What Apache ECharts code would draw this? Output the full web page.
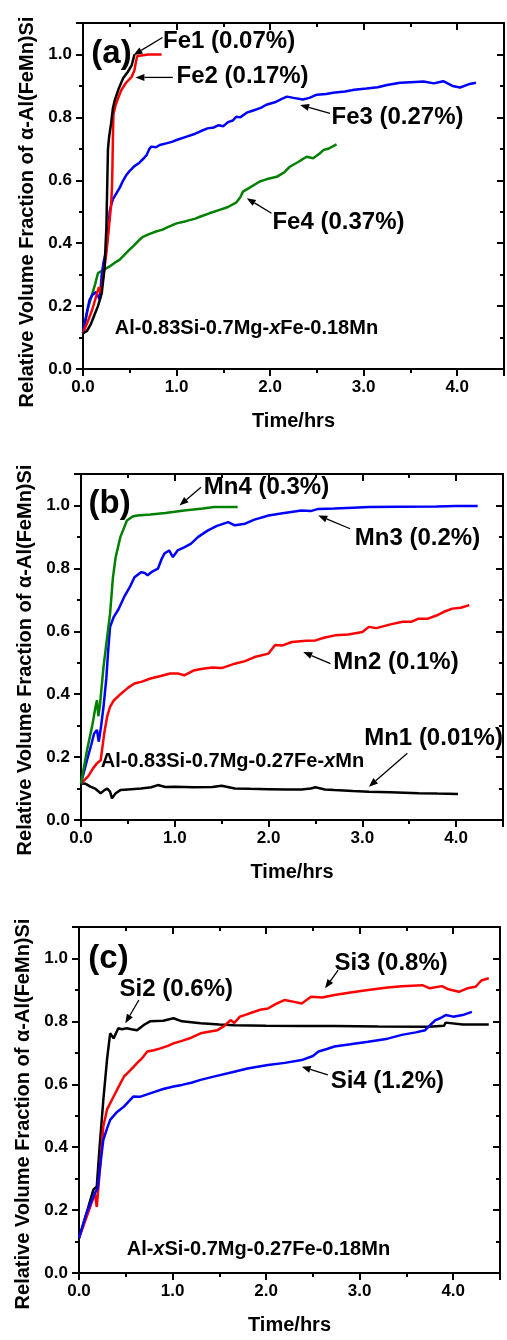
<!DOCTYPE html>
<html>
<head>
<meta charset="utf-8">
<script src="https://cdn.jsdelivr.net/npm/echarts@6/dist/echarts.min.js"></script>
<style>
  html, body { margin: 0; padding: 0; background: #fff; }
  #chart { width: 507px; height: 1340px; }
</style>
</head>
<body>
<div id="chart"></div>
<script>
// ---- Data: time (hrs) vs relative volume fraction of alpha-Al(FeMn)Si ----
// Panel (a): Al-0.83Si-0.7Mg-xFe-0.18Mn
const fe1 = [[0,0.114],[0.04,0.12],[0.08,0.14],[0.12,0.17],[0.16,0.2],[0.2,0.24],[0.23,0.32],[0.25,0.45],[0.26,0.6],[0.267,0.7],[0.28,0.74],[0.3,0.78],[0.32,0.83],[0.34,0.855],[0.38,0.89],[0.43,0.925],[0.48,0.945],[0.52,0.965],[0.55,1.0]];
const fe2 = [[0,0.114],[0.05,0.15],[0.1,0.19],[0.15,0.24],[0.17,0.26],[0.19,0.24],[0.22,0.3],[0.25,0.37],[0.28,0.46],[0.3,0.52],[0.31,0.58],[0.315,0.65],[0.32,0.74],[0.325,0.81],[0.35,0.84],[0.38,0.865],[0.41,0.887],[0.46,0.91],[0.52,0.929],[0.55,0.95],[0.565,0.975],[0.58,0.995],[0.6,1.0],[0.7,1.0],[0.84,1.0]];
const fe3 = [[0,0.114],[0.035,0.17],[0.07,0.22],[0.1,0.235],[0.14,0.245],[0.16,0.25],[0.18,0.22],[0.2,0.3],[0.22,0.34],[0.25,0.38],[0.27,0.44],[0.285,0.5],[0.3,0.52],[0.32,0.54],[0.36,0.56],[0.39,0.575],[0.43,0.6],[0.46,0.615],[0.5,0.63],[0.55,0.645],[0.6,0.655],[0.65,0.67],[0.68,0.68],[0.71,0.7],[0.73,0.707],[0.78,0.705],[0.82,0.712],[0.9,0.718],[0.95,0.722],[1.0,0.728],[1.1,0.738],[1.2,0.748],[1.25,0.755],[1.33,0.765],[1.4,0.768],[1.45,0.775],[1.5,0.772],[1.55,0.785],[1.6,0.79],[1.64,0.802],[1.68,0.8],[1.75,0.815],[1.82,0.822],[1.9,0.83],[1.96,0.84],[2.05,0.848],[2.12,0.858],[2.18,0.866],[2.25,0.862],[2.35,0.857],[2.42,0.862],[2.5,0.872],[2.6,0.874],[2.67,0.878],[2.8,0.882],[2.9,0.888],[3.03,0.892],[3.15,0.896],[3.25,0.903],[3.39,0.91],[3.5,0.912],[3.64,0.914],[3.75,0.908],[3.85,0.915],[3.95,0.9],[4.03,0.895],[4.12,0.905],[4.2,0.91]];
const fe4 = [[0,0.114],[0.05,0.19],[0.09,0.23],[0.13,0.27],[0.16,0.305],[0.22,0.315],[0.285,0.326],[0.35,0.34],[0.39,0.347],[0.45,0.365],[0.5,0.38],[0.535,0.39],[0.6,0.41],[0.64,0.42],[0.7,0.428],[0.78,0.437],[0.85,0.443],[0.9,0.45],[1.0,0.463],[1.1,0.47],[1.2,0.478],[1.25,0.484],[1.35,0.495],[1.46,0.506],[1.55,0.515],[1.64,0.53],[1.68,0.545],[1.71,0.564],[1.8,0.58],[1.89,0.596],[1.96,0.603],[2.07,0.611],[2.15,0.625],[2.21,0.643],[2.3,0.658],[2.39,0.675],[2.46,0.67],[2.53,0.685],[2.57,0.696],[2.62,0.7],[2.66,0.706],[2.71,0.714]];

// Panel (b): Al-0.83Si-0.7Mg-0.27Fe-xMn
const mn1 = [[0,0.116],[0.05,0.115],[0.1,0.106],[0.15,0.1],[0.21,0.085],[0.25,0.095],[0.28,0.1],[0.31,0.09],[0.33,0.069],[0.37,0.085],[0.42,0.095],[0.5,0.097],[0.64,0.1],[0.75,0.104],[0.82,0.111],[0.9,0.105],[1.0,0.106],[1.2,0.104],[1.4,0.105],[1.5,0.109],[1.64,0.1],[1.8,0.099],[2.0,0.098],[2.2,0.097],[2.35,0.097],[2.45,0.1],[2.5,0.104],[2.6,0.097],[2.7,0.095],[2.9,0.092],[3.07,0.09],[3.3,0.088],[3.6,0.085],[3.8,0.084],[4.02,0.083]];
const mn2 = [[0,0.116],[0.08,0.14],[0.13,0.165],[0.17,0.18],[0.21,0.19],[0.25,0.28],[0.28,0.33],[0.31,0.36],[0.35,0.38],[0.42,0.4],[0.5,0.42],[0.57,0.434],[0.65,0.44],[0.74,0.45],[0.85,0.458],[0.95,0.466],[1.03,0.466],[1.1,0.46],[1.2,0.475],[1.28,0.48],[1.4,0.485],[1.5,0.483],[1.64,0.497],[1.75,0.505],[1.85,0.518],[2.0,0.529],[2.04,0.545],[2.07,0.556],[2.15,0.555],[2.25,0.566],[2.4,0.57],[2.5,0.571],[2.6,0.58],[2.71,0.587],[2.85,0.59],[3.0,0.598],[3.07,0.614],[3.15,0.61],[3.3,0.622],[3.43,0.63],[3.52,0.63],[3.6,0.64],[3.7,0.64],[3.79,0.65],[3.87,0.662],[3.96,0.672],[4.05,0.675],[4.14,0.683]];
const mn3 = [[0,0.116],[0.064,0.19],[0.11,0.24],[0.14,0.275],[0.17,0.286],[0.19,0.249],[0.215,0.3],[0.24,0.36],[0.27,0.45],[0.29,0.54],[0.31,0.614],[0.35,0.646],[0.4,0.67],[0.46,0.709],[0.52,0.74],[0.57,0.772],[0.64,0.788],[0.68,0.785],[0.71,0.778],[0.76,0.79],[0.82,0.799],[0.86,0.83],[0.89,0.847],[0.94,0.857],[0.98,0.836],[1.03,0.857],[1.1,0.867],[1.17,0.878],[1.25,0.9],[1.35,0.92],[1.45,0.935],[1.57,0.947],[1.64,0.937],[1.75,0.942],[1.85,0.955],[2.0,0.968],[2.15,0.975],[2.35,0.984],[2.45,0.982],[2.53,0.989],[2.7,0.99],[2.9,0.993],[3.07,0.995],[3.4,0.996],[3.79,0.997],[4.0,0.998],[4.23,0.998]];
const mn4 = [[0,0.116],[0.064,0.222],[0.12,0.3],[0.155,0.36],[0.17,0.381],[0.185,0.33],[0.2,0.36],[0.24,0.487],[0.27,0.56],[0.31,0.656],[0.34,0.77],[0.37,0.836],[0.42,0.9],[0.49,0.952],[0.55,0.965],[0.6,0.968],[0.74,0.971],[0.9,0.976],[1.1,0.984],[1.3,0.99],[1.42,0.995],[1.55,0.995],[1.67,0.995]];

// Panel (c): Al-xSi-0.7Mg-0.27Fe-0.18Mn
const si2 = [[0,0.111],[0.08,0.19],[0.154,0.265],[0.19,0.275],[0.22,0.4],[0.26,0.55],[0.3,0.68],[0.333,0.762],[0.37,0.746],[0.42,0.778],[0.46,0.775],[0.51,0.778],[0.56,0.775],[0.62,0.772],[0.7,0.79],[0.76,0.8],[0.9,0.802],[1.01,0.81],[1.1,0.8],[1.3,0.794],[1.5,0.79],[1.66,0.788],[2.0,0.786],[2.4,0.785],[2.73,0.785],[3.2,0.784],[3.74,0.783],[3.9,0.786],[3.92,0.796],[4.1,0.79],[4.38,0.79]];
const si3 = [[0,0.111],[0.06,0.16],[0.12,0.21],[0.17,0.254],[0.19,0.21],[0.226,0.339],[0.26,0.466],[0.3,0.52],[0.37,0.561],[0.42,0.59],[0.48,0.624],[0.55,0.645],[0.62,0.667],[0.68,0.685],[0.73,0.704],[0.8,0.708],[0.87,0.714],[0.95,0.722],[1.01,0.73],[1.1,0.738],[1.2,0.748],[1.3,0.762],[1.4,0.768],[1.48,0.772],[1.55,0.785],[1.62,0.804],[1.66,0.795],[1.72,0.815],[1.77,0.82],[1.85,0.828],[1.95,0.838],[2.02,0.841],[2.1,0.855],[2.2,0.868],[2.3,0.862],[2.38,0.857],[2.48,0.878],[2.6,0.876],[2.73,0.884],[2.9,0.892],[3.09,0.9],[3.3,0.908],[3.45,0.912],[3.67,0.915],[3.75,0.905],[3.88,0.912],[3.95,0.902],[4.06,0.894],[4.15,0.905],[4.24,0.91],[4.3,0.93],[4.38,0.937]];
const si4 = [[0,0.111],[0.08,0.19],[0.17,0.254],[0.2,0.27],[0.23,0.35],[0.26,0.423],[0.3,0.46],[0.333,0.487],[0.4,0.51],[0.48,0.529],[0.58,0.561],[0.65,0.56],[0.76,0.571],[0.9,0.585],[1.01,0.593],[1.1,0.598],[1.2,0.605],[1.3,0.614],[1.45,0.625],[1.66,0.64],[1.8,0.65],[2.02,0.661],[2.2,0.668],[2.38,0.677],[2.5,0.69],[2.56,0.704],[2.65,0.712],[2.73,0.72],[2.9,0.727],[3.09,0.735],[3.3,0.745],[3.45,0.757],[3.6,0.765],[3.7,0.772],[3.76,0.79],[3.81,0.804],[3.86,0.81],[3.92,0.82],[4.0,0.815],[4.1,0.82],[4.2,0.83]];

// Axis titles and ranges
const xTitle = 'Time/hrs';
const yTitle = 'Relative Volume Fraction of α-Al(FeMn)Si';
const xRange = [0, 4.5];
const yRange = [0, 1.1];

// Curve labels: [panel, time, fraction, text]; arrows: [panel, [fromT, fromV], [toT, toV]]
const curveLabels = [
  [0, 0.856, 1.04, 'Fe1 (0.07%)'],
  [0, 1.0, 0.929, 'Fe2 (0.17%)'],
  [0, 2.656, 0.80, 'Fe3 (0.27%)'],
  [0, 2.025, 0.466, 'Fe4 (0.37%)'],
  [1, 1.31, 1.058, 'Mn4 (0.3%)'],
  [1, 2.92, 0.894, 'Mn3 (0.2%)'],
  [1, 2.69, 0.50, 'Mn2 (0.1%)'],
  [1, 3.02, 0.259, 'Mn1 (0.01%)'],
  [2, 2.73, 0.984, 'Si3 (0.8%)'],
  [2, 0.434, 0.902, 'Si2 (0.6%)'],
  [2, 2.69, 0.61, 'Si4 (1.2%)']
];
const arrows = [
  [0, [0.85, 1.054], [0.54, 0.998]],
  [0, [0.96, 0.927], [0.56, 0.927]],
  [0, [2.64, 0.813], [2.32, 0.839]],
  [0, [2.015, 0.495], [1.75, 0.543]],
  [1, [1.28, 1.058], [1.05, 1.0]],
  [1, [2.87, 0.926], [2.53, 0.968]],
  [1, [2.66, 0.497], [2.37, 0.534]],
  [1, [3.48, 0.212], [3.07, 0.106]],
  [2, [2.77, 0.963], [2.63, 0.905]],
  [2, [0.64, 0.868], [0.495, 0.794]],
  [2, [2.66, 0.63], [2.38, 0.656]]
];
const panelTags = [[0, 0.089, 1.003, '(a)'], [1, 0.08, 1.005, '(b)'], [2, 0.1, 1.0, '(c)']];
// Alloy compositions: [panel, time, fraction, before-italic, italic, after-italic]
const alloys = [
  [0, 0.339, 0.13, 'Al-0.83Si-0.7Mg-', 'x', 'Fe-0.18Mn'],
  [1, 0.21, 0.185, 'Al-0.83Si-0.7Mg-0.27Fe-', 'x', 'Mn'],
  [2, 0.51, 0.074, 'Al-', 'x', 'Si-0.7Mg-0.27Fe-0.18Mn']
];

const FONT = '"Liberation Sans", Arial, Helvetica, sans-serif';
const grids = [
  { left: 83, top: 23, width: 422, height: 346, yShift: 32 },
  { left: 81, top: 474, width: 422, height: 346, yShift: 26 },
  { left: 79, top: 927, width: 421, height: 346, yShift: 28 }
];

const xAxes = [], yAxes = [];
function axisCommon(min, max) {
  return { type: 'value', min: min, max: max, splitLine: { show: false }, scale: false };
}
function lineOn() {
  return { show: true, onZero: false, lineStyle: { color: '#000', width: 2 } };
}
const lineOff = { show: false, onZero: false };
grids.forEach((g, gi) => {
  // bottom axis: labels + long outward ticks
  xAxes.push(Object.assign(axisCommon(xRange[0], xRange[1]), {
    gridIndex: gi, position: 'bottom', interval: 1,
    name: xTitle, nameLocation: 'middle', nameGap: 42,
    nameTextStyle: { fontFamily: FONT, fontWeight: 'bold', fontSize: 20, color: '#000' },
    axisLine: lineOn(),
    axisTick: { show: true, length: 7, lineStyle: { color: '#000', width: 2 } },
    axisLabel: { margin: 10, fontFamily: FONT, fontWeight: 'bold', fontSize: 17, color: '#000',
      formatter: v => (v > 4.25 ? '' : v.toFixed(1)) }
  }));
  // bottom axis: short half-hour ticks
  xAxes.push(Object.assign(axisCommon(xRange[0], xRange[1]), {
    gridIndex: gi, position: 'bottom', interval: 0.5,
    axisLine: lineOff, axisLabel: { show: false },
    axisTick: { show: true, length: 4, lineStyle: { color: '#000', width: 2 } }
  }));
  // top mirror axis, ticks inside
  xAxes.push(Object.assign(axisCommon(xRange[0], xRange[1]), {
    gridIndex: gi, position: 'top', interval: 1,
    axisLine: lineOn(), axisLabel: { show: false },
    axisTick: { show: true, inside: true, length: 7, lineStyle: { color: '#000', width: 2 } }
  }));
  xAxes.push(Object.assign(axisCommon(xRange[0], xRange[1]), {
    gridIndex: gi, position: 'top', interval: 0.5,
    axisLine: lineOff, axisLabel: { show: false },
    axisTick: { show: true, inside: true, length: 4, lineStyle: { color: '#000', width: 2 } }
  }));

  // left axis: labels + long outward ticks
  yAxes.push(Object.assign(axisCommon(yRange[0], yRange[1]), {
    gridIndex: gi, position: 'left', interval: 0.2,
    name: yTitle, nameLocation: 'middle', nameGap: 46, nameRotate: 90,
    nameTextStyle: { fontFamily: FONT, fontWeight: 'bold', fontSize: 20, color: '#000',
      padding: [0, g.yShift, 0, 0] },
    axisLine: lineOn(),
    axisTick: { show: true, length: 7, lineStyle: { color: '#000', width: 2 } },
    axisLabel: { margin: 11, fontFamily: FONT, fontWeight: 'bold', fontSize: 17, color: '#000',
      formatter: v => (v > 1.05 ? '' : v.toFixed(1)) }
  }));
  yAxes.push(Object.assign(axisCommon(yRange[0], yRange[1]), {
    gridIndex: gi, position: 'left', interval: 0.1,
    axisLine: lineOff, axisLabel: { show: false },
    axisTick: { show: true, length: 4, lineStyle: { color: '#000', width: 2 } }
  }));
  // right mirror axis, ticks inside
  yAxes.push(Object.assign(axisCommon(yRange[0], yRange[1]), {
    gridIndex: gi, position: 'right', interval: 0.2,
    axisLine: lineOn(), axisLabel: { show: false },
    axisTick: { show: true, inside: true, length: 7, lineStyle: { color: '#000', width: 2 } }
  }));
  yAxes.push(Object.assign(axisCommon(yRange[0], yRange[1]), {
    gridIndex: gi, position: 'right', interval: 0.1,
    axisLine: lineOff, axisLabel: { show: false },
    axisTick: { show: true, inside: true, length: 4, lineStyle: { color: '#000', width: 2 } }
  }));
});

function curve(name, data, gi, color) {
  return {
    name: name, type: 'line', data: data, xAxisIndex: gi * 4, yAxisIndex: gi * 4,
    showSymbol: false, symbol: 'none', smooth: false, animation: false,
    lineStyle: { color: color, width: 2.5 }, emphasis: { disabled: true }
  };
}

const BLACK = '#000000', RED = '#ff0000', BLUE = '#0000ff', GREEN = '#008000';
const series = [
  curve('Fe4', fe4, 0, GREEN), curve('Fe3', fe3, 0, BLUE), curve('Fe2', fe2, 0, RED), curve('Fe1', fe1, 0, BLACK),
  curve('Mn1', mn1, 1, BLACK), curve('Mn2', mn2, 1, RED), curve('Mn3', mn3, 1, BLUE), curve('Mn4', mn4, 1, GREEN),
  curve('Si2', si2, 2, BLACK), curve('Si3', si3, 2, RED), curve('Si4', si4, 2, BLUE)
];

const chart = echarts.init(document.getElementById('chart'), null, { renderer: 'canvas' });
chart.setOption({
  backgroundColor: '#ffffff',
  animation: false,
  grid: grids.map(g => ({ left: g.left, top: g.top, width: g.width, height: g.height, containLabel: false })),
  xAxis: xAxes,
  yAxis: yAxes,
  series: series
});

// Text annotations and arrows placed in data coordinates of each panel
function px(gi, t, v) {
  return chart.convertToPixel({ xAxisIndex: gi * 4, yAxisIndex: gi * 4 }, [t, v]);
}
const graphics = [];
curveLabels.forEach(([gi, t, v, text]) => {
  const p = px(gi, t, v);
  graphics.push({ type: 'text', x: p[0], y: p[1], z: 100,
    style: { text: text, fill: '#000', font: 'bold 24px ' + FONT, verticalAlign: 'middle', align: 'left' } });
});
panelTags.forEach(([gi, t, v, text]) => {
  const p = px(gi, t, v);
  graphics.push({ type: 'text', x: p[0], y: p[1], z: 100,
    style: { text: text, fill: '#000', font: 'bold 33px ' + FONT, verticalAlign: 'middle', align: 'left' } });
});
alloys.forEach(([gi, t, v, a, b, c]) => {
  const p = px(gi, t, v);
  graphics.push({ type: 'text', x: p[0], y: p[1], z: 100,
    style: {
      text: '{n|' + a + '}{i|' + b + '}{n|' + c + '}',
      verticalAlign: 'middle', align: 'left',
      rich: {
        n: { fontFamily: FONT, fontWeight: 'bold', fontSize: 20, fill: '#000' },
        i: { fontFamily: FONT, fontWeight: 'bold', fontStyle: 'italic', fontSize: 20, fill: '#000' }
      }
    } });
});
arrows.forEach(([gi, from, to]) => {
  const a = px(gi, from[0], from[1]);
  const b = px(gi, to[0], to[1]);
  const dx = b[0] - a[0], dy = b[1] - a[1];
  const len = Math.sqrt(dx * dx + dy * dy);
  const ux = dx / len, uy = dy / len;
  const headL = 9, headW = 3.5;
  const base = [b[0] - ux * headL, b[1] - uy * headL];
  graphics.push({ type: 'line', z: 100,
    shape: { x1: a[0], y1: a[1], x2: base[0], y2: base[1] },
    style: { stroke: '#000', lineWidth: 1.3 } });
  graphics.push({ type: 'polygon', z: 100,
    shape: { points: [b, [base[0] - uy * headW, base[1] + ux * headW], [base[0] + uy * headW, base[1] - ux * headW]] },
    style: { fill: '#000' } });
});
chart.setOption({ graphic: graphics });
</script>
</body>
</html>
